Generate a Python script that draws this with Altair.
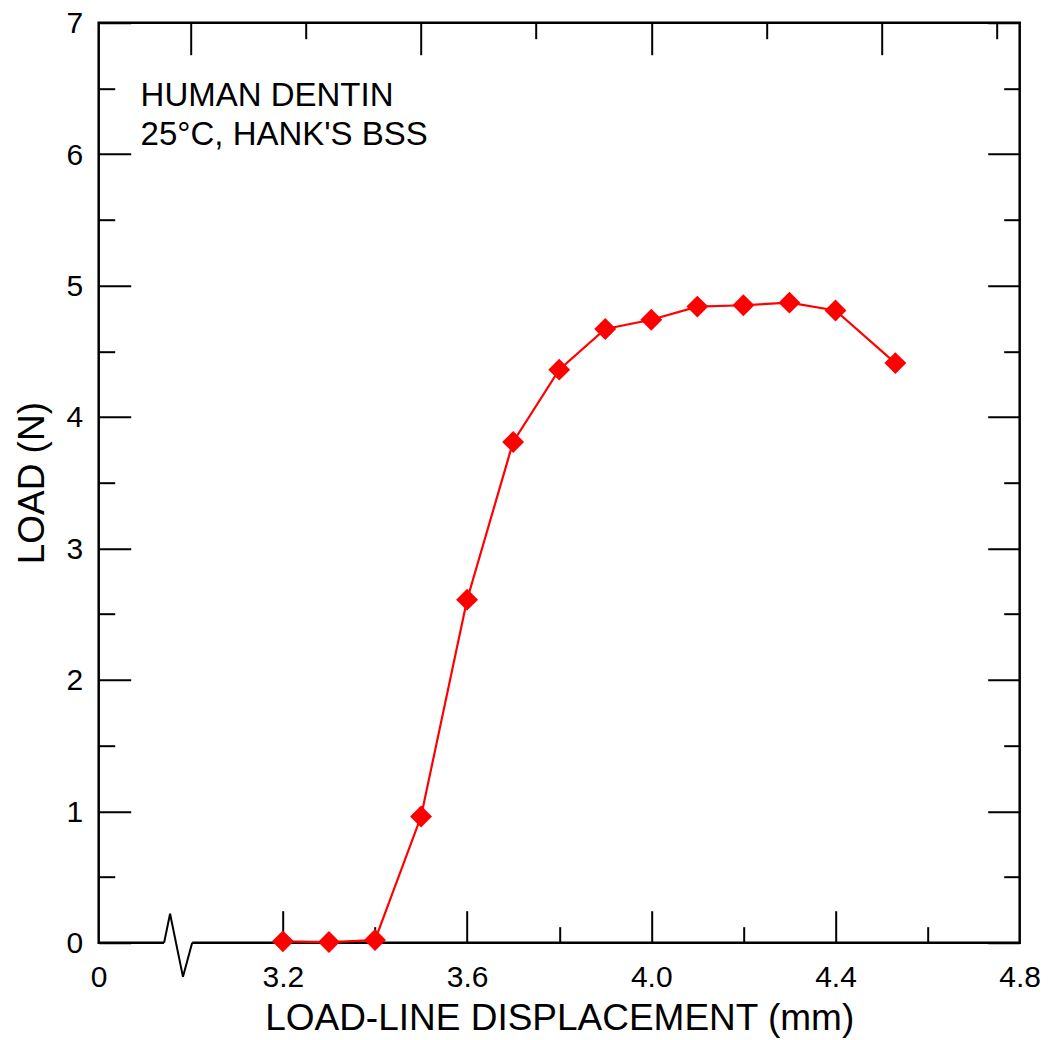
import altair as alt
import pandas as pd

# ---- data ----
X_DISP = [3.2, 3.3, 3.4, 3.5, 3.6, 3.7, 3.8, 3.9, 4.0, 4.1, 4.2, 4.3, 4.4, 4.53]
Y_LOAD = [0.01, 0.005, 0.02, 0.96, 2.61, 3.81, 4.36, 4.67, 4.74, 4.84, 4.85, 4.87, 4.81, 4.41]

X_LABELS = [2.8, 3.2, 3.6, 4.0, 4.4, 4.8]
X_MAJOR_BOTTOM = [3.2, 3.6, 4.0, 4.4]
X_MINOR_BOTTOM = [3.4, 3.8, 4.2, 4.6]
X_MAJOR_TOP = [3.0, 3.5, 4.0, 4.5]
X_MINOR_TOP = [3.25, 3.75, 4.25, 4.75]
Y_MAJOR = [0, 1, 2, 3, 4, 5, 6, 7]
Y_MINOR = [0.5, 1.5, 2.5, 3.5, 4.5, 5.5, 6.5]

# axis-break symbol (zig-zag) on the x axis
BREAK_X = [2.942, 2.955, 2.983, 3.003]
BREAK_Y = [0.0, 0.22, -0.26, 0.0]

ANNOTATION = "HUMAN DENTIN\n25°C, HANK'S BSS"
ANN_X = 2.891
ANN_Y = 6.565

X_TITLE = "LOAD-LINE DISPLACEMENT (mm)"
Y_TITLE = "LOAD (N)"

W, H = 921, 920
FONT = "Liberation Sans"
RED = "#ff0000"

df = pd.DataFrame({"x": X_DISP, "y": Y_LOAD})
df_gap = pd.DataFrame({"x": [BREAK_X[0]], "x2": [BREAK_X[-1]], "y": [0.0]})
df_zig = pd.DataFrame({"x": BREAK_X, "y": BREAK_Y, "o": list(range(len(BREAK_X)))})
df_ann = pd.DataFrame({"t": [ANNOTATION]})

xs = alt.Scale(domain=[2.8, 4.8], nice=False, zero=False)
ys = alt.Scale(domain=[0, 7], nice=False, zero=False)


def tick_axis(orient, offset, values, size):
    return alt.Axis(orient=orient, offset=offset, values=values, tickSize=size,
                    tickWidth=2, tickColor="black", labels=False, domain=False,
                    grid=False, title=None)


line = alt.Chart(df).mark_line(color=RED, strokeWidth=2.2).encode(
    x=alt.X("x:Q", scale=xs, axis=alt.Axis(
        orient="bottom", values=X_LABELS,
        labelExpr="datum.value < 3 ? '0' : format(datum.value, '.1f')",
        ticks=False, domain=False, grid=False, labelFlush=False,
        labelPadding=20, labelFontSize=30, labelFont=FONT, labelColor="black",
        title=X_TITLE, titleFontSize=37, titleFont=FONT, titleFontWeight="normal",
        titleColor="black", titlePadding=8)),
    y=alt.Y("y:Q", scale=ys, axis=alt.Axis(
        orient="left", values=Y_MAJOR, ticks=False, domain=False, grid=False,
        labelFlush=False, labelPadding=16, labelFontSize=30, labelFont=FONT,
        labelColor="black", labelOffset=1,
        title=Y_TITLE, titleFontSize=37, titleFont=FONT, titleFontWeight="normal",
        titleColor="black", titlePadding=15)),
    order="x:Q",
)

points = alt.Chart(df).mark_point(shape="diamond", filled=True, color=RED,
                                   size=480, opacity=1, strokeWidth=0).encode(
    x=alt.X("x:Q", scale=xs, axis=tick_axis("top", -H, X_MAJOR_BOTTOM, 32)),
    y=alt.Y("y:Q", scale=ys, axis=tick_axis("right", -W, Y_MAJOR, 32)),
)

gap = alt.Chart(df_gap).mark_rule(color="white", strokeWidth=6).encode(
    x=alt.X("x:Q", scale=xs, axis=tick_axis("top", -H, X_MINOR_BOTTOM, 16)),
    x2="x2:Q",
    y=alt.Y("y:Q", scale=ys, axis=tick_axis("right", -W, Y_MINOR, 16)),
)

zig = alt.Chart(df_zig).mark_line(color="black", strokeWidth=2).encode(
    x=alt.X("x:Q", scale=xs, axis=tick_axis("bottom", -H, X_MAJOR_TOP, 32)),
    y=alt.Y("y:Q", scale=ys, axis=tick_axis("left", -W, Y_MAJOR, 32)),
    order="o:Q",
)

ann = alt.Chart(df_ann).mark_text(align="left", baseline="top", fontSize=33,
                                  font=FONT, color="black", lineBreak="\n",
                                  lineHeight=39).encode(
    x=alt.X(datum=ANN_X, type="quantitative", scale=xs,
            axis=tick_axis("bottom", -H, X_MINOR_TOP, 16)),
    y=alt.Y(datum=ANN_Y, type="quantitative", scale=ys,
            axis=tick_axis("left", -W, Y_MINOR, 16)),
    text="t:N",
)

chart = alt.layer(line, points, gap, zig, ann).resolve_axis(
    x="independent", y="independent"
).properties(
    width=W, height=H,
    autosize=alt.AutoSizeParams(type="none"),
    padding={"left": 90.7, "top": 14.7, "right": 21, "bottom": 97},
).configure_view(
    stroke="black", strokeWidth=2.5
)

chart.save("out.html", embed_options={"renderer": "svg", "actions": False})
